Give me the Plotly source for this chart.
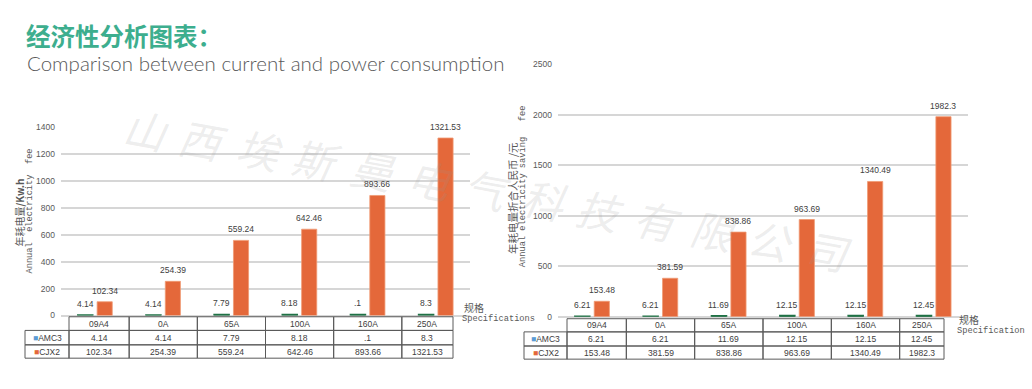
import plotly.graph_objects as go

# ---------------- data ----------------
categories = ["09A4", "0A", "65A", "100A", "160A", "250A"]
series_names = ["AMC3", "CJX2"]

left_amc3 = [4.14, 4.14, 7.79, 8.18, 8.1, 8.3]
left_amc3_text = ["4.14", "4.14", "7.79", "8.18", ".1", "8.3"]
left_cjx2 = [102.34, 254.39, 559.24, 642.46, 893.66, 1321.53]
left_cjx2_text = ["102.34", "254.39", "559.24", "642.46", "893.66", "1321.53"]

right_amc3 = [6.21, 6.21, 11.69, 12.15, 12.15, 12.45]
right_amc3_text = ["6.21", "6.21", "11.69", "12.15", "12.15", "12.45"]
right_cjx2 = [153.48, 381.59, 838.86, 963.69, 1340.49, 1982.3]
right_cjx2_text = ["153.48", "381.59", "838.86", "963.69", "1340.49", "1982.3"]

left_ticks = [0, 200, 400, 600, 800, 1000, 1200, 1400]
right_ticks = [0, 500, 1000, 1500, 2000, 2500]

title_text = "经济性分析图表："
subtitle_text = "Comparison between current and power consumption"
left_ytitle_cn = "年耗电量<b>/Kw.h</b>"
left_ytitle_en = "Annual\u00a0\u00a0electricity\u00a0\u00a0fee"
right_ytitle_cn = "年耗电量折合人民币 /元"
right_ytitle_en = "Annual\u00a0electricity\u00a0saving\u00a0\u00a0\u00a0fee"
spec_cn = "规格"
left_spec_en = "Specifications"
right_spec_en = "Specification"
watermark_chars = list("山西埃斯曼电气科技有限公司")

# ---------------- style ----------------
W, H = 1032, 389
GREEN = "#1F7145"
ORANGE = "#E4683A"
LEG_BLUE = "#5B9BD5"
GRID = "#D6D6D6"
TXT = "#404040"
AX = "#595959"
BORDER = "#5A5A5A"
SANS = "Liberation Sans, Arial, sans-serif"
MONO = "Liberation Mono, Courier New, monospace"
CJK = "Noto Sans CJK SC, sans-serif"
BAR_W = 0.222          # bar width in category units
GREEN_OFF = -0.255     # bar offsets in category units
ORANGE_OFF = 0.030
LABEL_LIFT = 11        # px between bar top and label centre


def px(x):
    return x / W


def py(y):
    return 1 - y / H


charts = [
    dict(xa="x", ya="y", xkey="xaxis", ykey="yaxis", dom=(61, 470), ybot=318.7, ytop=125.7,
         yrange=(0, 1400), ticks=left_ticks,
         amc=left_amc3, amc_text=left_amc3_text, cj=left_cjx2, cj_text=left_cjx2_text,
         rows=(320, 334, 348.8, 362.5), leg_left=25, inset=(8, 17),
         cn=left_ytitle_cn, en=left_ytitle_en, cn_pos=(20, 213), en_pos=(30, 212), cn_size=10,
         spec_en=left_spec_en, spec_pos=(461, 310, 322)),
    dict(xa="x2", ya="y2", xkey="xaxis2", ykey="yaxis2", dom=(558, 968), ybot=320, ytop=61,
         yrange=(0, 2500), ticks=right_ticks,
         amc=right_amc3, amc_text=right_amc3_text, cj=right_cjx2, cj_text=right_cjx2_text,
         rows=(322, 335.5, 350, 363.5), leg_left=524, inset=(9, 24),
         cn=right_ytitle_cn, en=right_ytitle_en, cn_pos=(513, 198), en_pos=(523, 186), cn_size=10.5,
         spec_en=right_spec_en, spec_pos=(956, 323, 335)),
]

fig = go.Figure()
shapes = []
annotations = []

for c in charts:
    d0, d1 = c["dom"]
    n = len(categories)
    band = (d1 - d0) / n
    series = [(series_names[0], c["amc"], c["amc_text"], GREEN_OFF, GREEN, GREEN, 1.4),
              (series_names[1], c["cj"], c["cj_text"], ORANGE_OFF, ORANGE, "#F09A74", 0.8)]
    for name, vals, texts, off, col, lcol, lw in series:
        fig.add_trace(go.Bar(
            x=categories, y=vals, name=name, xaxis=c["xa"], yaxis=c["ya"],
            width=BAR_W, offset=off,
            marker=dict(color=col, line=dict(color=lcol, width=lw)), hoverinfo="skip"))
        # value labels above each bar
        for cat, v, t in zip(categories, vals, texts):
            annotations.append(dict(xref=c["xa"], yref=c["ya"], x=cat, y=v, text=t,
                                    xshift=(off + BAR_W / 2) * band, yshift=LABEL_LIFT,
                                    showarrow=False, xanchor="center", yanchor="middle",
                                    font=dict(family=SANS, size=8.5, color=TXT)))

    fig.update_layout(**{
        c["xkey"]: dict(domain=[px(d0), px(d1)], type="category", categoryarray=categories,
                        range=[-0.5, n - 0.5], showticklabels=False,
                        showgrid=False, zeroline=False, showline=False, ticks="",
                        anchor=c["ya"], fixedrange=True),
        c["ykey"]: dict(domain=[py(c["ybot"]), py(c["ytop"])], range=list(c["yrange"]),
                        tickvals=c["ticks"], showgrid=True, gridcolor=GRID, gridwidth=1.6,
                        zeroline=True, zerolinecolor=GRID, zerolinewidth=1.6, showline=False,
                        ticks="", ticklabelstandoff=5, anchor=c["xa"], fixedrange=True,
                        tickfont=dict(family=SANS, size=8.5, color=AX)),
    })

    # ---- data table below the chart ----
    edges = [d0 + k * band for k in range(n + 1)]
    edges[0] += c["inset"][0]
    edges[-1] -= c["inset"][1]
    r0, r1, r2, r3 = c["rows"]
    line = dict(color=BORDER, width=1)
    for i, cat in enumerate(categories):
        shapes.append(dict(type="rect", xref="paper", yref="paper",
                           x0=px(edges[i]), x1=px(edges[i + 1]), y0=py(r1), y1=py(r0),
                           line=line, fillcolor="rgba(0,0,0,0)"))
        annotations.append(dict(xref="paper", yref="paper", x=px((edges[i] + edges[i + 1]) / 2),
                                y=py((r0 + r1) / 2), text=cat, showarrow=False,
                                xanchor="center", yanchor="middle",
                                font=dict(family=SANS, size=8.5, color=TXT)))
    body = [(series_names[0], LEG_BLUE, c["amc_text"], r1, r2),
            (series_names[1], ORANGE, c["cj_text"], r2, r3)]
    for name, col, vals, ra, rb in body:
        shapes.append(dict(type="rect", xref="paper", yref="paper",
                           x0=px(c["leg_left"]), x1=px(edges[0]), y0=py(rb), y1=py(ra),
                           line=line, fillcolor="rgba(0,0,0,0)"))
        annotations.append(dict(xref="paper", yref="paper", x=px((c["leg_left"] + edges[0]) / 2),
                                y=py((ra + rb) / 2),
                                text=f"<span style='color:{col}'>■</span>{name}",
                                showarrow=False, xanchor="center", yanchor="middle",
                                font=dict(family=SANS, size=8.5, color=TXT)))
        for i, v in enumerate(vals):
            shapes.append(dict(type="rect", xref="paper", yref="paper",
                               x0=px(edges[i]), x1=px(edges[i + 1]), y0=py(rb), y1=py(ra),
                               line=line, fillcolor="rgba(0,0,0,0)"))
            annotations.append(dict(xref="paper", yref="paper",
                                    x=px((edges[i] + edges[i + 1]) / 2), y=py((ra + rb) / 2),
                                    text=v, showarrow=False, xanchor="center", yanchor="middle",
                                    font=dict(family=SANS, size=8.5, color=TXT)))

    # ---- axis titles ----
    annotations.append(dict(xref="paper", yref="paper", x=px(c["cn_pos"][0]), y=py(c["cn_pos"][1]),
                            text=c["cn"], textangle=-90, showarrow=False,
                            xanchor="center", yanchor="middle",
                            font=dict(family=CJK, size=c["cn_size"], color=AX)))
    annotations.append(dict(xref="paper", yref="paper", x=px(c["en_pos"][0]), y=py(c["en_pos"][1]),
                            text=c["en"], textangle=-90, showarrow=False,
                            xanchor="center", yanchor="middle",
                            font=dict(family=MONO, size=8.7, color=AX)))
    sx, sy1, sy2 = c["spec_pos"]
    annotations.append(dict(xref="paper", yref="paper", x=px(sx + 1), y=py(sy1), text=spec_cn,
                            showarrow=False, xanchor="left", yanchor="middle",
                            font=dict(family=CJK, size=10, color=AX)))
    annotations.append(dict(xref="paper", yref="paper", x=px(sx - 1), y=py(sy2), text=c["spec_en"],
                            showarrow=False, xanchor="left", yanchor="middle",
                            font=dict(family=MONO, size=8.7, color=AX)))

# ---- titles ----
annotations.append(dict(xref="paper", yref="paper", x=px(24), y=py(31), text=title_text,
                        showarrow=False, xanchor="left", yanchor="middle",
                        font=dict(family=CJK, size=24.5, color="#3DAE8E", weight="bold")))
annotations.append(dict(xref="paper", yref="paper", x=px(25), y=py(60), text=subtitle_text,
                        showarrow=False, xanchor="left", yanchor="middle",
                        font=dict(family="Lato Light, Lato, Roboto, sans-serif", size=20.5,
                                  color="#5A5A5A", weight=300)))

# ---- watermark ----
for i, ch in enumerate(watermark_chars):
    annotations.append(dict(xref="paper", yref="paper", x=px(146 + 56.8 * i), y=py(127 + 10.3 * i),
                            text=ch, textangle=10.3, showarrow=False,
                            xanchor="center", yanchor="middle",
                            font=dict(family=CJK, size=42, color="rgba(150,150,150,0.18)",
                                      style="italic")))

fig.update_layout(
    width=W, height=H, autosize=False,
    margin=dict(l=0, r=0, t=0, b=0),
    paper_bgcolor="white", plot_bgcolor="white",
    showlegend=False, barmode="overlay",
    shapes=shapes, annotations=annotations,
)

fig.write_html("out.html", config={"displayModeBar": False},
               post_script="document.body.style.margin='0px';")
